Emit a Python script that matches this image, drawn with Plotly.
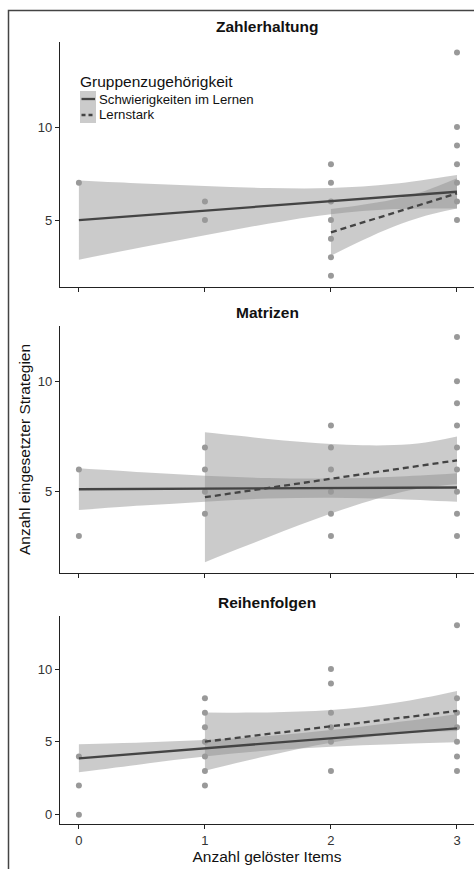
import plotly.graph_objects as go

# ---------------- data ----------------
panel_titles = ["Zahlerhaltung", "Matrizen", "Reihenfolgen"]
group_names = ["Schwierigkeiten im Lernen", "Lernstark"]

# observed points (x = Anzahl gelöster Items, y = Anzahl eingesetzter Strategien)
zahl_x = [0, 1, 1, 2, 2, 2, 2, 2, 2, 2, 3, 3, 3, 3, 3, 3, 3]
zahl_y = [7, 6, 5, 8, 7, 6, 5, 4, 3, 2, 14, 10, 9, 8, 7, 6, 5]
matr_x = [0, 0, 1, 1, 1, 1, 2, 2, 2, 2, 2, 2, 3, 3, 3, 3, 3, 3, 3, 3, 3]
matr_y = [6, 3, 7, 6, 5, 4, 8, 7, 6, 5, 4, 3, 12, 10, 9, 8, 7, 6, 5, 4, 3]
reih_x = [0, 0, 0, 1, 1, 1, 1, 1, 1, 1, 2, 2, 2, 2, 2, 2, 3, 3, 3, 3, 3, 3, 3]
reih_y = [4, 2, 0, 8, 7, 6, 5, 4, 3, 2, 10, 9, 7, 6, 5, 3, 13, 8, 7, 6, 5, 4, 3]

# fitted lines (endpoints)
zahl_sw_x = [0, 3];  zahl_sw_y = [5.00, 6.52]
zahl_ls_x = [2, 3];  zahl_ls_y = [4.34, 6.43]
matr_sw_x = [0, 3];  matr_sw_y = [5.11, 5.19]
matr_ls_x = [1, 3];  matr_ls_y = [4.75, 6.42]
reih_sw_x = [0, 3];  reih_sw_y = [3.87, 5.93]
reih_ls_x = [1, 3];  reih_ls_y = [5.01, 7.12]

# confidence bands
zahl_sw_bx = [0, 0.5, 1, 1.5, 2, 2.5, 3]
zahl_sw_up = [7.13, 6.97, 6.83, 6.72, 6.72, 6.95, 7.42]
zahl_sw_lo = [2.87, 3.54, 4.18, 4.80, 5.31, 5.59, 5.62]
zahl_ls_bx = [2, 2.25, 2.5, 2.75, 3]
zahl_ls_up = [5.59, 5.82, 6.12, 6.58, 7.24]
zahl_ls_lo = [3.08, 3.91, 4.65, 5.23, 5.62]

matr_sw_bx = [0, 0.5, 1, 1.5, 2, 2.5, 3]
matr_sw_up = [6.06, 5.88, 5.72, 5.62, 5.60, 5.68, 5.84]
matr_sw_lo = [4.17, 4.37, 4.55, 4.69, 4.73, 4.67, 4.54]
matr_ls_bx = [1, 1.25, 1.5, 1.75, 2, 2.25, 2.5, 2.75, 3]
matr_ls_up = [7.69, 7.54, 7.39, 7.26, 7.16, 7.10, 7.11, 7.23, 7.50]
matr_ls_lo = [1.81, 2.38, 2.94, 3.49, 4.01, 4.49, 4.90, 5.19, 5.34]

reih_sw_bx = [0, 0.5, 1, 1.5, 2, 2.5, 3]
reih_sw_up = [4.84, 4.96, 5.13, 5.40, 5.81, 6.33, 6.90]
reih_sw_lo = [2.91, 3.47, 3.99, 4.40, 4.67, 4.84, 4.97]
reih_ls_bx = [1, 1.25, 1.5, 1.75, 2, 2.25, 2.5, 2.75, 3]
reih_ls_up = [7.01, 7.00, 7.02, 7.08, 7.19, 7.38, 7.66, 8.04, 8.49]
reih_ls_lo = [3.01, 3.54, 4.05, 4.53, 4.94, 5.28, 5.52, 5.67, 5.75]

x_tickvals = [0, 1, 2, 3]
y_ticks = [[5, 10], [5, 10], [0, 5, 10]]
x_title = "Anzahl gelöster Items"
y_title = "Anzahl eingesetzter Strategien"
legend_title = "Gruppenzugehörigkeit"

# ---------------- styling ----------------
W, H = 474, 869
FONT = "Liberation Sans, Arial, sans-serif"
BAND = "rgba(140,140,140,0.45)"
LINE = "#444444"
POINT = "#999999"
AX = "#222222"

def px_x(p):
    return p / W

def px_y(p):
    return (H - p) / H

panels = [
    dict(pts=(zahl_x, zahl_y),
         sw=(zahl_sw_x, zahl_sw_y), ls=(zahl_ls_x, zahl_ls_y),
         swb=(zahl_sw_bx, zahl_sw_up, zahl_sw_lo), lsb=(zahl_ls_bx, zahl_ls_up, zahl_ls_lo),
         top=42, bot=287, yr=[1.40, 14.57], title_y=27),
    dict(pts=(matr_x, matr_y),
         sw=(matr_sw_x, matr_sw_y), ls=(matr_ls_x, matr_ls_y),
         swb=(matr_sw_bx, matr_sw_up, matr_sw_lo), lsb=(matr_ls_bx, matr_ls_up, matr_ls_lo),
         top=326, bot=573, yr=[1.32, 12.50], title_y=313),
    dict(pts=(reih_x, reih_y),
         sw=(reih_sw_x, reih_sw_y), ls=(reih_ls_x, reih_ls_y),
         swb=(reih_sw_bx, reih_sw_up, reih_sw_lo), lsb=(reih_ls_bx, reih_ls_up, reih_ls_lo),
         top=616, bot=824, yr=[-0.64, 13.64], title_y=602),
]

fig = go.Figure()
layout = dict(
    width=W, height=H, margin=dict(l=0, r=0, t=0, b=0),
    paper_bgcolor="white", plot_bgcolor="white",
    showlegend=False, font=dict(family=FONT, color="#333333"),
)

x_left = 60
for i, p in enumerate(panels):
    n = i + 1
    xa = "x" if n == 1 else f"x{n}"
    ya = "y" if n == 1 else f"y{n}"
    # bands
    for bx, up, lo in (p["swb"], p["lsb"]):
        fig.add_trace(go.Scatter(x=bx, y=up, mode="lines", line=dict(width=0, shape="spline"),
                                 hoverinfo="skip", xaxis=xa, yaxis=ya))
        fig.add_trace(go.Scatter(x=bx, y=lo, mode="lines", line=dict(width=0, shape="spline"),
                                 fill="tonexty", fillcolor=BAND, hoverinfo="skip",
                                 xaxis=xa, yaxis=ya))
    # points
    fig.add_trace(go.Scatter(x=p["pts"][0], y=p["pts"][1], mode="markers",
                             marker=dict(size=6, color=POINT), xaxis=xa, yaxis=ya))
    # lines
    fig.add_trace(go.Scatter(x=p["sw"][0], y=p["sw"][1], mode="lines", name=group_names[0],
                             line=dict(color=LINE, width=2.3), xaxis=xa, yaxis=ya))
    fig.add_trace(go.Scatter(x=p["ls"][0], y=p["ls"][1], mode="lines", name=group_names[1],
                             line=dict(color=LINE, width=2.3, dash="6px,4px"), xaxis=xa, yaxis=ya))

    axis_common = dict(showline=True, linecolor=AX, linewidth=1.2, ticks="outside",
                       ticklen=4, tickwidth=1.2, tickcolor=AX, showgrid=False, zeroline=False,
                       tickfont=dict(size=13, color="#333333", family=FONT))
    layout["xaxis" if n == 1 else f"xaxis{n}"] = dict(
        axis_common, domain=[px_x(x_left), 1], range=[-0.15, 3.135],
        tickvals=x_tickvals, showticklabels=(n == 3), anchor=ya,
        title=dict(text=x_title if n == 3 else "", font=dict(size=15.5, color="#111111"), standoff=4),
    )
    layout["yaxis" if n == 1 else f"yaxis{n}"] = dict(
        axis_common, domain=[px_y(p["bot"]), px_y(p["top"])], range=p["yr"],
        tickvals=y_ticks[i], anchor=xa,
    )

annotations = []
for i, p in enumerate(panels):
    annotations.append(dict(text=f"<b>{panel_titles[i]}</b>", xref="paper", yref="paper",
                            x=px_x(267), y=px_y(panels[i]["title_y"]), xanchor="center",
                            yanchor="middle", showarrow=False,
                            font=dict(size=15.5, color="#111111", family=FONT)))
annotations.append(dict(text=y_title, xref="paper", yref="paper", x=px_x(25), y=px_y(450),
                        textangle=-90, xanchor="center", yanchor="middle", showarrow=False,
                        font=dict(size=15.5, color="#111111", family=FONT)))

# legend (drawn manually, ggplot style)
annotations.append(dict(text=legend_title, xref="paper", yref="paper", x=px_x(78), y=px_y(81),
                        xanchor="left", yanchor="middle", showarrow=False,
                        font=dict(size=15.5, color="#111111", family=FONT)))
shapes = []
for k, (nm, dash) in enumerate(zip(group_names, ["solid", "4px,3px"])):
    yc = 99 + 16 * k
    shapes.append(dict(type="rect", xref="paper", yref="paper", x0=px_x(80), x1=px_x(96),
                       y0=px_y(yc + 8), y1=px_y(yc - 8), fillcolor="#cbcbcb", line=dict(width=0)))
    shapes.append(dict(type="line", xref="paper", yref="paper", x0=px_x(81.5), x1=px_x(95),
                       y0=px_y(yc), y1=px_y(yc), line=dict(color=LINE, width=2.3, dash=dash)))
    annotations.append(dict(text=nm, xref="paper", yref="paper", x=px_x(97), y=px_y(yc),
                            xanchor="left", yanchor="middle", showarrow=False,
                            font=dict(size=13.2, color="#111111", family=FONT)))

# outer frame
shapes.append(dict(type="rect", xref="paper", yref="paper", x0=px_x(8.5), x1=1.05,
                   y0=-0.05, y1=px_y(10.5), line=dict(color="#444444", width=1.5),
                   fillcolor="rgba(0,0,0,0)"))

layout["annotations"] = annotations
layout["shapes"] = shapes
fig.update_layout(**layout)
fig.write_html("out.html", config={"displayModeBar": False},
               post_script="document.body.style.margin='0';document.body.style.overflow='hidden';")
